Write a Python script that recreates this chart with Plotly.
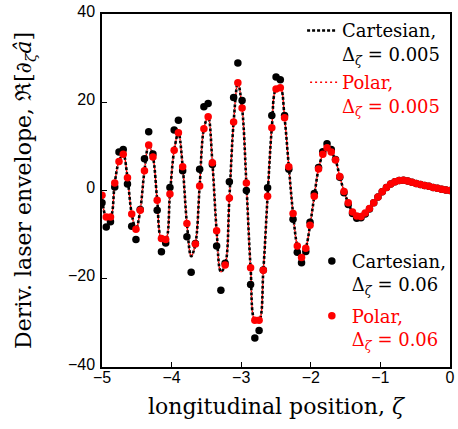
import plotly.graph_objects as go

# sampling grid of the coarse (0.06) runs, read from dot spacing
ZETA_START = -5.0
ZETA_STEP = 0.061
N_POINTS = 83
zeta = [round(ZETA_START + ZETA_STEP * k, 4) for k in range(N_POINTS)]

# fine-step (0.005) curves, read at the same positions (Cartesian and Polar overlap)
fine_vals = [
    -1.1, -6.0, -6.0, 1.7, 6.6, 8.2, 2.9, -5.3, -8.8, -4.5,
    4.5, 10.3, 7.6, -2.2, -10.9, -11.1, -0.8, 9.1, 13.1, 5.4,
    -7.5, -14.9, -12.1, 1.0, 14.0, 16.7, 6.3, -9.1, -18.4, -16.9,
    -1.7, 15.5, 24.4, 18.7, 1.7, -17.5, -29.4, -29.4, -18.1, -1.3,
    14.2, 23.0, 23.3, 16.5, 5.4, -5.2, -12.6, -15.2, -13.1, -7.9,
    -1.3, 4.9, 8.2, 9.7, 8.7, 6.9, 3.2, -0.2, -2.8, -4.9,
    -5.8, -5.9, -5.1, -4.1, -2.8, -1.5, -0.3, 0.7, 1.5, 2.0,
    2.25, 2.3, 2.15, 1.85, 1.6, 1.35, 1.15, 0.95, 0.7, 0.5,
    0.3, 0.1, 0.0,
]
cart_fine = fine_vals
polar_fine = fine_vals

# coarse-step (0.06) results
polar_coarse = [
    -1.1, -6.0, -6.0, 1.7, 6.6, 8.2, 2.9, -5.3, -8.8, -4.5,
    4.5, 10.3, 7.6, -2.2, -10.9, -11.1, -0.8, 9.1, 13.1, 5.4,
    -7.5, None, -12.1, 1.0, 14.0, 16.7, 6.3, -9.1, None, -16.9,
    -1.7, 15.5, 24.4, 18.7, 1.7, -17.5, -29.4, -29.4, -18.1, -1.3,
    14.2, 23.0, 23.3, 16.5, 5.4, -5.2, -12.6, -15.2, -13.1, -7.9,
    -1.3, 4.9, 8.2, 9.7, 8.7, 6.9, 3.2, -0.2, -2.8, -4.9,
    -5.8, -5.9, -5.1, -4.1, -2.8, -1.5, -0.3, 0.7, 1.5, 2.0,
    2.25, 2.3, 2.15, 1.85, 1.6, 1.35, 1.15, 0.95, 0.7, 0.5,
    0.3, 0.1, 0.0,
]
cart_coarse = [
    -2.8, -8.3, -7.1, 0.8, 8.7, 9.3, 1.5, -8.1, -11.1, -4.3,
    7.2, 13.3, 8.3, -4.5, -13.9, -11.9, 0.7, 13.7, 15.9, 4.5,
    -10.5, -18.5, -12.0, 4.8, 19.0, 19.7, 5.9, -12.6, -22.6, -16.5,
    2.0, 21.1, 28.9, 20.4, 0.0, -21.3, -33.4, -31.7, -18.0, 0.6,
    17.0, 25.7, 25.1, 17.0, 4.8, -6.5, -14.0, -16.4, -13.8, -7.2,
    -0.7, 5.2, 8.8, 10.6, 9.3, 7.0, 3.0, -0.5, -3.2, -5.2,
    -6.3, -6.2, -5.3, -4.2, -2.8, -1.5, -0.3, 0.7, 1.5, 2.0,
    2.25, 2.3, 2.15, 1.85, 1.6, 1.35, 1.15, 0.95, 0.7, 0.5,
    0.3, 0.1, 0.0,
]

x_ticks = [-5, -4, -3, -2, -1, 0]
y_ticks = [-40, -20, 0, 20, 40]

RED = "#ff0000"
SERIF = "DejaVu Serif"

name_cf = "Cartesian,<br>Δ<sub><i>ζ</i></sub> = 0.005"
name_pf = (f"<span style='color:{RED}'>Polar,</span><br>"
           f"<span style='color:{RED}'>Δ<sub><i>ζ</i></sub> = 0.005</span>")
name_cc = "Cartesian,<br>Δ<sub><i>ζ</i></sub> = 0.06"
name_pc = (f"<span style='color:{RED}'>Polar,</span><br>"
           f"<span style='color:{RED}'>Δ<sub><i>ζ</i></sub> = 0.06</span>")

fig = go.Figure()
fig.add_trace(go.Scatter(
    x=zeta, y=cart_fine, mode="lines", name=name_cf, legendgroup="cf",
    line=dict(color="black", width=2.6, dash="3px,2px", shape="spline", smoothing=1.0),
    legend="legend"))
fig.add_trace(go.Scatter(
    x=zeta, y=polar_fine, mode="lines", name=name_pf, legendgroup="pf",
    line=dict(color=RED, width=1.4, dash="0px,3px,2px,0px", shape="spline", smoothing=1.0),
    legend="legend"))
fig.add_trace(go.Scatter(
    x=zeta, y=cart_coarse, mode="markers", name=name_cc, legendgroup="cc",
    marker=dict(color="black", size=7.5, line=dict(width=0)),
    legend="legend2"))
fig.add_trace(go.Scatter(
    x=zeta, y=polar_coarse, mode="markers", name=name_pc, legendgroup="pc",
    marker=dict(color=RED, size=7.5, line=dict(width=0)),
    legend="legend2"))

axis_common = dict(
    showgrid=False, zeroline=False, showline=True, mirror=True,
    linecolor="black", linewidth=1.5,
    ticks="inside", ticklen=5, tickwidth=1.3, tickcolor="black",
    tickfont=dict(family="Liberation Sans", size=16, color="black"),
)

fig.update_layout(
    width=458, height=429,
    margin=dict(l=102, r=3, t=14, b=62),
    paper_bgcolor="white", plot_bgcolor="white",
    xaxis=dict(
        range=[-5, 0], tickvals=x_ticks, ticklabelstandoff=-5,
        title=dict(text="longitudinal position, <i>ζ</i>",
                   font=dict(family=SERIF, size=22, color="black"), standoff=14),
        **axis_common),
    yaxis=dict(
        range=[-40, 40], tickvals=y_ticks, ticklabelshift=-3, ticklabelstandoff=2,
        title=dict(text="Deriv. laser envelope, ℜ[∂<sub><i>ζ</i></sub><i>â</i>]",
                   font=dict(family=SERIF, size=22, color="black"), standoff=30),
        **axis_common),
    showlegend=True,
    legend=dict(
        x=0.575, y=1.005, xanchor="left", yanchor="top",
        bgcolor="rgba(0,0,0,0)", borderwidth=0,
        font=dict(family=SERIF, size=18, color="black"),
        valign="top", tracegroupgap=2, itemwidth=30),
    legend2=dict(
        x=0.603, y=0.352, xanchor="left", yanchor="top",
        bgcolor="rgba(0,0,0,0)", borderwidth=0,
        font=dict(family=SERIF, size=18, color="black"),
        valign="top", tracegroupgap=5, itemwidth=30),
)

fig.write_html("out.html")
